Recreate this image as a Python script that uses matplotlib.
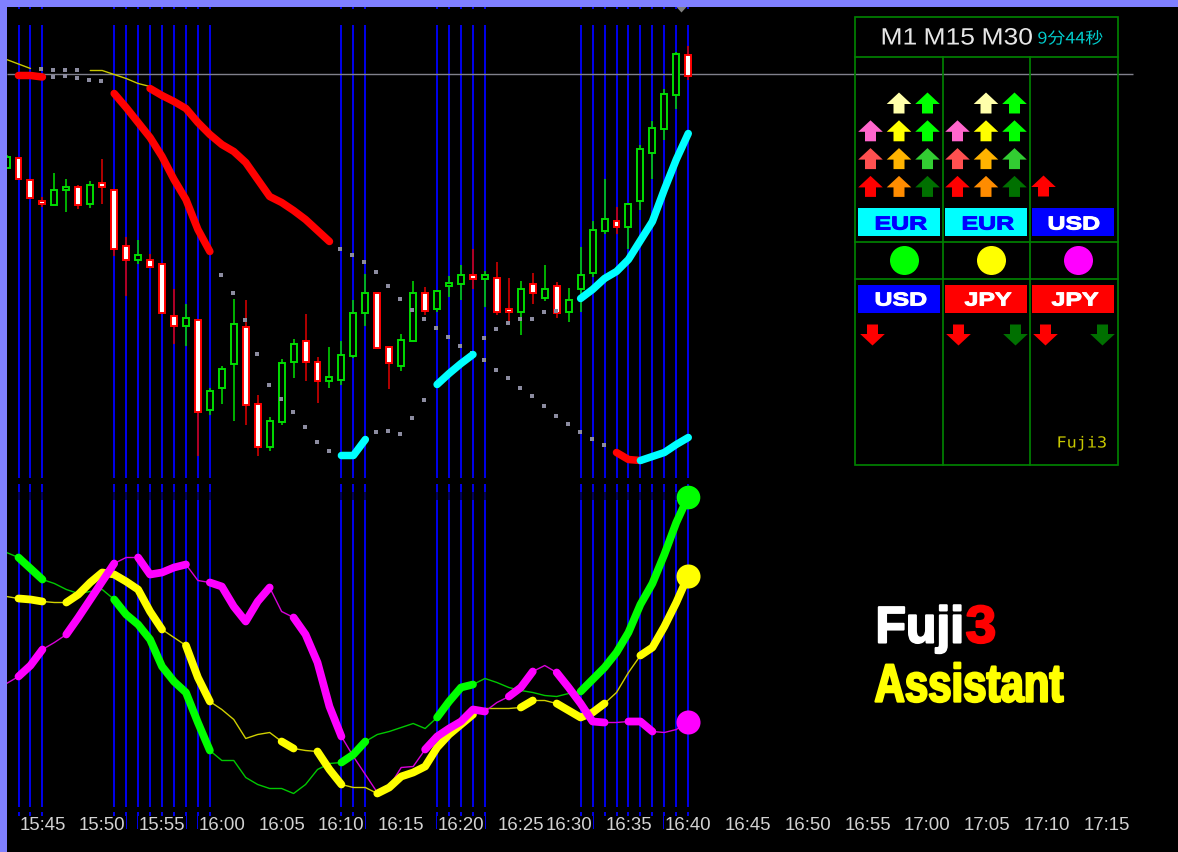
import numpy as np
import matplotlib
matplotlib.use("Agg")
import matplotlib.pyplot as plt
import matplotlib.patheffects as pe
from matplotlib.patches import Rectangle, Polygon, Circle
from matplotlib.transforms import Affine2D

W, H = 1178, 853
BAR0_X = 18.0     # pixel column of bar 0
BAR_STEP = 11.96  # pixels per bar

# candles, first one is bar -1, values are read as chart rows (smaller = higher price)
candle_open = [168, 158, 180, 201, 205, 190, 187, 204, 183, 190, 246, 260, 260, 264, 316, 326, 320, 411, 389, 364,
               327, 405, 448, 423, 363, 342, 363, 382, 381, 356, 313, 293, 348, 367, 341, 293, 309, 286, 284, 275,
               279, 278, 309, 312, 284, 298, 286, 312, 289, 273, 231, 221, 227, 201, 153, 129, 95, 55]
candle_close = [157, 179, 198, 204, 190, 187, 205, 185, 187, 249, 260, 255, 267, 313, 326, 318, 412, 392, 370, 324,
                405, 448, 422, 364, 345, 363, 382, 378, 356, 313, 293, 348, 364, 341, 293, 311, 291, 283, 275, 279,
                275, 312, 312, 289, 293, 289, 313, 300, 275, 230, 219, 227, 204, 149, 128, 94, 54, 76]
candle_high = [156, 158, 180, 198, 174, 180, 186, 182, 160, 190, 238, 241, 255, 264, 290, 305, 320, 389, 367, 300,
               301, 396, 418, 360, 340, 315, 358, 348, 342, 301, 275, 293, 348, 335, 282, 288, 291, 277, 266, 250,
               272, 263, 279, 282, 274, 266, 283, 289, 248, 222, 180, 208, 204, 146, 122, 90, 53, 47]
candle_low = [168, 179, 198, 208, 205, 213, 210, 209, 205, 257, 297, 265, 268, 313, 345, 347, 457, 416, 405, 422,
              426, 457, 452, 426, 379, 382, 404, 389, 386, 359, 327, 350, 390, 372, 341, 316, 313, 298, 301, 290,
              308, 316, 325, 336, 305, 302, 319, 323, 313, 278, 235, 235, 250, 211, 180, 141, 110, 81]

# blue signal bars
signal_bars = [0, 1, 2, 8, 9, 10, 11, 12, 13, 14, 15, 16, 27, 28, 29, 35, 36, 37, 38, 39,
               47, 48, 49, 50, 51, 52, 53, 54, 55, 56]

# upper indicator pieces: first bar, values
red_top = (0, [76, 76, 77.5])
red_a = (8, [94, 108, 123, 138, 157, 180, 200, 230, 252])
red_b = (11, [89, 96, 102, 109, 123, 135, 145, 152, 163, 180, 197, 203, 211, 220, 231, 242])
red_c = (50, [453, 460, 461])
cyan_a = (27, [456, 456, 440])
cyan_b = (35, [385, 374, 364, 355])
cyan_c = (47, [299, 290, 279, 272, 260, 241, 222, 190, 160, 134])
cyan_d = (52, [461, 457, 453, 445, 438])
yellow_a = (-1, [60, 64.5, 69])
yellow_b = (6, [71, 71, 75, 79, 84, 87])
dots_a = (2, [69.3, 70.7, 70.7, 70.7])
dots_b = (3, [77.5, 76.5, 79, 80.5, 82])
dots_c = (17, [276, 294, 321, 355, 386, 400, 413, 428, 443, 452])
dots_d = (27, [250, 256, 263, 273, 287, 300, 311, 320, 329, 338, 347, 354, 361, 371, 379, 389, 397, 407, 417,
               425, 433, 440, 446])
dots_e = (30, [433, 432, 435, 419, 401])
dots_f = (39, [339, 330, 324, 320, 320, 313, 312])
last_price = 75

# currency strength lines, bar -1 to bar 56
green_line = [553, 558, 569, 580, 584, 590, 594, 592, 590, 600, 615, 625, 640, 667, 682, 693, 723, 751, 761, 761,
              778, 785, 789, 789, 794, 785, 770, 764, 763, 755, 742, 735, 732, 728, 724, 729, 718, 702, 688, 685,
              679, 683, 688, 691, 693, 696, 697, 694, 692, 680, 668, 653, 633, 605, 584, 555, 523, 497]
yellow_line = [597, 599, 600, 602, 603, 603, 595, 583, 573, 575, 582, 590, 612, 630, 638, 646, 678, 702, 710, 720,
               739, 735, 733, 742, 749, 751, 752, 770, 785, 788, 788, 794, 788, 777, 773, 767, 748, 735, 725, 715,
               709, 709, 709, 708, 701, 701, 704, 711, 718, 713, 704, 693, 673, 656, 648, 627, 603, 576]
magenta_line = [684, 677, 666, 650, 643, 635, 618, 600, 582, 564, 558, 558, 575, 573, 568, 565, 581, 583, 587, 607,
                622, 602, 588, 612, 618, 635, 663, 707, 737, 757, 775, 793, 787, 768, 767, 750, 737, 729, 722, 710,
                712, 703, 697, 688, 672, 666, 673, 688, 704, 722, 723, 723, 722, 722, 732, 733, 730, 722]
green_thick = [(0, 2), (8, 16), (27, 29), (35, 38), (47, 56)]
yellow_thick = [(0, 2), (4, 12), (14, 16), (22, 23), (25, 27), (30, 38), (42, 43), (45, 49), (52, 56)]
magenta_thick = [(0, 2), (4, 8), (10, 14), (16, 21), (23, 27), (34, 39), (41, 43), (45, 49), (51, 53)]

# time axis
tick_bars = [2, 7, 12, 17, 22, 27, 32, 37, 42, 46, 51, 56, 61, 66, 71, 76, 81, 86, 91]
tick_labels = ["15:45", "15:50", "15:55", "16:00", "16:05", "16:10", "16:15", "16:20", "16:25", "16:30",
               "16:35", "16:40", "16:45", "16:50", "16:55", "17:00", "17:05", "17:10", "17:15"]

# panel content
timeframes = ["M1", "M15", "M30"]
countdown = "9分44秒"
up_arrows = [["", "#FFFFAA", "#00FF00"],
             ["#FF66CC", "#FFFF00", "#00FF00"],
             ["#FF5050", "#FFB300", "#32CD32"],
             ["#FF0000", "#FF8C00", "#007000"]]
strong_names = ["EUR", "EUR", "USD"]
strong_colors = ["#00FFFF", "#00FFFF", "#0000FF"]
strong_text = ["#0000FF", "#0000FF", "#FFFFFF"]
dot_colors = ["#00FF00", "#FFFF00", "#FF00FF"]
weak_names = ["USD", "JPY", "JPY"]
weak_colors = ["#0000FF", "#FF0000", "#FF0000"]


class StretchX(pe.AbstractPathEffect):
    """Stretch a text sideways from its origin, with an optional outline, the text stays a Text."""

    def __init__(self, sx, stroke=0.0, color=None):
        super().__init__()
        self.sx = sx
        self.stroke = stroke
        self.color = color

    def draw_path(self, renderer, gc, tpath, affine, rgbFace=None):
        trans = Affine2D().scale(self.sx, 1) + affine
        if self.stroke:
            gc0 = renderer.new_gc()
            gc0.copy_properties(gc)
            gc0.set_linewidth(self.stroke)
            gc0.set_foreground(self.color)
            renderer.draw_path(gc0, tpath, trans, rgbFace)
            gc0.restore()
        renderer.draw_path(gc, tpath, trans, rgbFace)


def px_axes(fig, left, top, right, bottom, **kw):
    return fig.add_axes([left / W, 1 - bottom / H, (right - left) / W, (bottom - top) / H], **kw)


def bar_limits(left, right):
    return (left - 0.5 - BAR0_X) / BAR_STEP, (right - 0.5 - BAR0_X) / BAR_STEP


def plot_piece(ax, piece, **kw):
    start, vals = piece
    ax.plot(np.arange(start, start + len(vals)), vals, solid_capstyle="round", solid_joinstyle="round", **kw)


def draw_candles(ax):
    bars = np.arange(-1, len(candle_open) - 1)
    o, c = np.array(candle_open, float), np.array(candle_close, float)
    hi, lo = np.array(candle_high, float), np.array(candle_low, float)
    is_up = c < o
    ax.vlines(bars[is_up], hi[is_up], lo[is_up], color="#00D000", lw=1.2, zorder=3)
    ax.vlines(bars[~is_up], hi[~is_up], lo[~is_up], color="#D00000", lw=1.2, zorder=3)
    ax.bar(bars[is_up], (o - c)[is_up], bottom=c[is_up], width=0.5, facecolor="black",
           edgecolor="#00DC00", lw=1.4, zorder=4)
    ax.bar(bars[~is_up], (c - o)[~is_up], bottom=o[~is_up], width=0.5, facecolor="white",
           edgecolor="#FF0000", lw=1.4, zorder=4)


def draw_strength(ax, line, spans, color, thin_color):
    bars = np.arange(-1, len(line) - 1)
    line = np.array(line, float)
    ax.plot(bars, line, color=thin_color, lw=1.0, zorder=4)
    for a, b in spans:
        ax.plot(bars[a + 1:b + 2], line[a + 1:b + 2], color=color, lw=5.6, zorder=5,
                solid_capstyle="round", solid_joinstyle="round")


def arrow(ax, cx, cy, color, up=True):
    s = -1 if up else 1
    pts = [(cx - 5.5, cy - s * 10), (cx + 5.5, cy - s * 10), (cx + 5.5, cy - s * 0.5), (cx + 12.3, cy - s * 0.5),
           (cx, cy + s * 11), (cx - 12.3, cy - s * 0.5), (cx - 5.5, cy - s * 0.5)]
    ax.add_patch(Polygon(pts, closed=True, facecolor=color, edgecolor="none", zorder=3))


def draw_panel(ax):
    line = "#008000"
    ax.add_patch(Rectangle((854, 17), 263, 448, fill=False, edgecolor=line, lw=1.25))
    for y in [57.5, 242.5, 279]:
        ax.plot([854, 1117], [y, y], color=line, lw=1.25)
    for x in [942, 1029]:
        ax.plot([x, x], [57, 465], color=line, lw=1.25)

    for name, x in zip(timeframes, [880, 923, 981]):
        ax.text(x, 45, name, color="#E6E6E6", fontsize=17, family="Liberation Sans", ha="left", va="baseline",
                path_effects=[StretchX(1.12)])
    ax.text(1037, 44, countdown, color="#00CCCC", fontsize=11.5, family=["Noto Sans CJK JP", "DejaVu Sans"],
            ha="left", va="baseline", path_effects=[StretchX(1.12)])

    for col_x in [870, 957]:
        for r, colors in enumerate(up_arrows):
            for k, color in enumerate(colors):
                if color:
                    arrow(ax, col_x + 28.5 * k, 104 + 27.8 * r, color)
    arrow(ax, 1043, 187, "#FF0000")

    box_x = [857.5, 944.5, 1031.5]
    for k in range(3):
        ax.add_patch(Rectangle((box_x[k], 208.5), 82, 28, facecolor=strong_colors[k], edgecolor="none"))
        ax.text([874, 961, 1047][k], 230, strong_names[k], color=strong_text[k], fontsize=13.5, fontweight="bold",
                family="Liberation Sans", ha="left", va="baseline",
                path_effects=[StretchX(1.33, 0.7, strong_text[k])])
        ax.add_patch(Circle((904 + 87 * k, 261), 14.5, facecolor=dot_colors[k], edgecolor="none"))
        ax.add_patch(Rectangle((box_x[k], 285.5), 82, 27.5, facecolor=weak_colors[k], edgecolor="none"))
        ax.text([874, 964, 1051][k], 306, weak_names[k], color="white", fontsize=13.5, fontweight="bold",
                family="Liberation Sans", ha="left", va="baseline",
                path_effects=[StretchX(1.33, 0.7, "white")])

    for x, color in [(872, "#FF0000"), (958, "#FF0000"), (1015, "#007000"), (1045, "#FF0000"), (1102, "#007000")]:
        arrow(ax, x, 335, color, up=False)

    ax.text(1056, 448, "Fuji3", color="#C8C800", fontsize=11, family="DejaVu Sans Mono", ha="left", va="baseline",
            path_effects=[StretchX(1.1)])

    # product name
    ax.text(875, 643, "Fuji", color="white", fontsize=37, fontweight="bold", family="Liberation Sans",
            ha="left", va="baseline", path_effects=[StretchX(0.97, 1.5, "white")])
    ax.text(965, 643, "3", color="#FF0000", fontsize=38, fontweight="bold", family="Liberation Sans",
            ha="left", va="baseline", path_effects=[StretchX(1.05, 1.5, "#FF0000")])
    ax.text(874, 702, "Assistant", color="#FFFF00", fontsize=38.5, fontweight="bold",
            family="Liberation Sans", ha="left", va="baseline",
            path_effects=[StretchX(0.785, 1.7, "#FFFF00")])

    # current-time marker on the top edge
    ax.add_patch(Polygon([(676, 7.5), (686, 7.5), (681, 13)], closed=True, facecolor="#808080", edgecolor="none"))


def main():
    fig = plt.figure(figsize=(W / 100, H / 100), dpi=100, facecolor="#8080FF")
    back = px_axes(fig, 7, 8, W, H, facecolor="black", zorder=-1)
    back.set_xticks([])
    back.set_yticks([])
    for side in back.spines.values():
        side.set_visible(False)

    # little blue stubs under the chart, tick labels sit on top of them
    stub = px_axes(fig, 7, 813, W, 830, facecolor="none", zorder=0)
    stub.set_xlim(*bar_limits(7, W))
    stub.set_ylim(0, 1)
    stub.set_axis_off()
    stub.vlines(signal_bars, 0, 1, color="#0000E6", lw=1.45)

    # price chart
    ax = px_axes(fig, 7, 8, W, 481, facecolor="none", zorder=1)
    ax.set_xlim(*bar_limits(7, W))
    ax.set_ylim(480.5, 7.5)
    ax.set_axis_off()
    for top, bottom in [(8, 10), (26, 479)]:
        ax.vlines(signal_bars, top, bottom, color="#0000E6", lw=1.45, zorder=1)
    ax.hlines(last_price, bar_limits(7, W)[0], bar_limits(1133, W)[0], color="#80808C", lw=1.0, zorder=2)
    draw_candles(ax)
    for piece in [yellow_a, yellow_b]:
        plot_piece(ax, piece, color="#C8C800", lw=1.0, zorder=5)
    for start, vals in [dots_a, dots_b, dots_c, dots_d, dots_e, dots_f]:
        ax.scatter(np.arange(start, start + len(vals)) - 0.08, vals, s=7, marker="s", color="#8C8CA0",
                   linewidths=0, zorder=5)
    for piece in [red_top, red_a, red_b, red_c]:
        plot_piece(ax, piece, color="#FF0000", lw=5.4, zorder=6)
    for piece in [cyan_a, cyan_b, cyan_c, cyan_d]:
        plot_piece(ax, piece, color="#00FFFF", lw=5.4, zorder=7)

    # strength chart
    ax2 = px_axes(fig, 7, 482, W, 808, facecolor="none", zorder=1)
    ax2.set_xlim(*bar_limits(7, W))
    ax2.set_ylim(807.5, 481.5)
    for side in ax2.spines.values():
        side.set_visible(False)
    for top, bottom, col in [(484, 492, "#0000E6"), (492, 500, "#000060"), (500, 808, "#0000E6")]:
        ax2.vlines(signal_bars, top, bottom, color=col, lw=1.45, zorder=1)
    draw_strength(ax2, green_line, green_thick, "#00FF00", "#00C800")
    draw_strength(ax2, yellow_line, yellow_thick, "#FFFF00", "#D0D000")
    draw_strength(ax2, magenta_line, magenta_thick, "#FF00FF", "#D800D8")
    last = len(green_line) - 2
    ax2.scatter([last], [green_line[-1]], s=290, color="#00FF00", linewidths=0, zorder=8)
    ax2.scatter([last], [yellow_line[-1]], s=300, color="#FFFF00", linewidths=0, zorder=8)
    ax2.scatter([last], [magenta_line[-1]], s=300, color="#FF00FF", linewidths=0, zorder=8)
    ax2.set_yticks([])
    ax2.set_xticks(tick_bars)
    ax2.set_xticklabels(tick_labels, family="Liberation Sans", fontsize=13.4, color="#D2D2D2")
    ax2.tick_params(axis="x", length=0, pad=6.7)
    for lab in ax2.get_xticklabels():
        lab.set_bbox(dict(facecolor="black", edgecolor="none", pad=0.5))

    # side panel and logo in pixel layout
    ui = px_axes(fig, 0, 0, W, H, facecolor="none", zorder=2)
    ui.set_xlim(-0.5, W - 0.5)
    ui.set_ylim(H - 0.5, -0.5)
    ui.set_axis_off()
    draw_panel(ui)

    fig.savefig("out.png", dpi=100, facecolor=fig.get_facecolor())


if __name__ == "__main__":
    main()
